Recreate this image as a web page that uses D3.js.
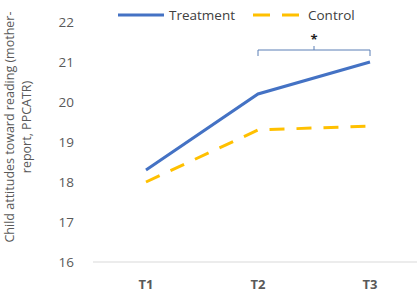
<!DOCTYPE html>
<html>
<head>
<meta charset="utf-8">
<script src="https://cdn.jsdelivr.net/npm/d3@7"></script>
<style>
  body { margin: 0; background: #fff; }
  text { font-family: "Open Sans", "Liberation Sans", sans-serif; }
</style>
</head>
<body>
<div id="container"></div>
<script>
// chart data
const times = ['T1', 'T2', 'T3'];
const treatment = [18.3, 20.2, 21.0];
const control = [18.0, 19.3, 19.4];
const yTicks = [16, 17, 18, 19, 20, 21, 22];

const width = 417, height = 295;

const svg = d3.select('#container')
    .append('svg')
    .attr('width', width)
    .attr('height', height);

// scales
const x = d3.scalePoint().domain(times).range([146, 370]);
const y = d3.scaleLinear().domain([16, 22]).range([262, 22]);

// bottom axis line
svg.append('line')
    .attr('x1', 93).attr('x2', 417)
    .attr('y1', y(16)).attr('y2', y(16))
    .style('stroke', '#d9d9d9').style('stroke-width', 1);

// y tick labels
svg.selectAll('.ytick')
    .data(yTicks)
    .enter().append('text')
    .attr('class', 'ytick')
    .attr('x', 74)
    .attr('y', d => y(d))
    .attr('dy', '0.35em')
    .attr('text-anchor', 'end')
    .style('font-size', '13.5px')
    .style('fill', '#595959')
    .text(d => d);

// x tick labels
svg.selectAll('.xtick')
    .data(times)
    .enter().append('text')
    .attr('class', 'xtick')
    .attr('x', d => x(d))
    .attr('y', 289)
    .attr('text-anchor', 'middle')
    .style('font-size', '13px')
    .style('font-weight', 'bold')
    .style('fill', '#595959')
    .text(d => d);

// y axis title, two lines
const title = svg.append('text')
    .attr('transform', 'translate(14,127) rotate(-90)')
    .attr('text-anchor', 'middle')
    .style('font-size', '12.5px')
    .style('fill', '#595959');
title.append('tspan').attr('x', 0).attr('y', 0).text('Child attitudes toward reading (mother-');
title.append('tspan').attr('x', 0).attr('y', 17).text('report, PPCATR)');

// lines
const line = d3.line()
    .x((d, i) => x(times[i]))
    .y(d => y(d));

svg.append('path')
    .datum(control)
    .attr('d', line)
    .style('fill', 'none')
    .style('stroke', '#ffc000')
    .style('stroke-width', 3)
    .style('stroke-dasharray', '15,12');

svg.append('path')
    .datum(treatment)
    .attr('d', line)
    .style('fill', 'none')
    .style('stroke', '#4472c4')
    .style('stroke-width', 3);

// significance bracket between T2 and T3
const bx1 = x('T2'), bx2 = x('T3'), by = 50;
svg.append('path')
    .attr('d', `M${bx1},${by + 6}V${by}H${bx2}V${by + 6}M${(bx1 + bx2) / 2},${by}V${by - 4}`)
    .style('fill', 'none')
    .style('stroke', '#5b7fb5')
    .style('stroke-width', 1);
svg.append('text')
    .attr('x', (bx1 + bx2) / 2)
    .attr('y', 44)
    .attr('text-anchor', 'middle')
    .style('font-size', '13px')
    .style('font-weight', 'bold')
    .style('fill', '#222')
    .text('*');

// legend
const legend = svg.append('g');
legend.append('line')
    .attr('x1', 118).attr('x2', 164).attr('y1', 15).attr('y2', 15)
    .style('stroke', '#4472c4').style('stroke-width', 3);
legend.append('text')
    .attr('x', 169).attr('y', 20)
    .style('font-size', '13.5px').style('fill', '#404040')
    .text('Treatment');
legend.append('line')
    .attr('x1', 253).attr('x2', 302).attr('y1', 15).attr('y2', 15)
    .style('stroke', '#ffc000').style('stroke-width', 3)
    .style('stroke-dasharray', '17,12');
legend.append('text')
    .attr('x', 308).attr('y', 20)
    .style('font-size', '13.5px').style('fill', '#404040')
    .text('Control');
</script>
</body>
</html>
